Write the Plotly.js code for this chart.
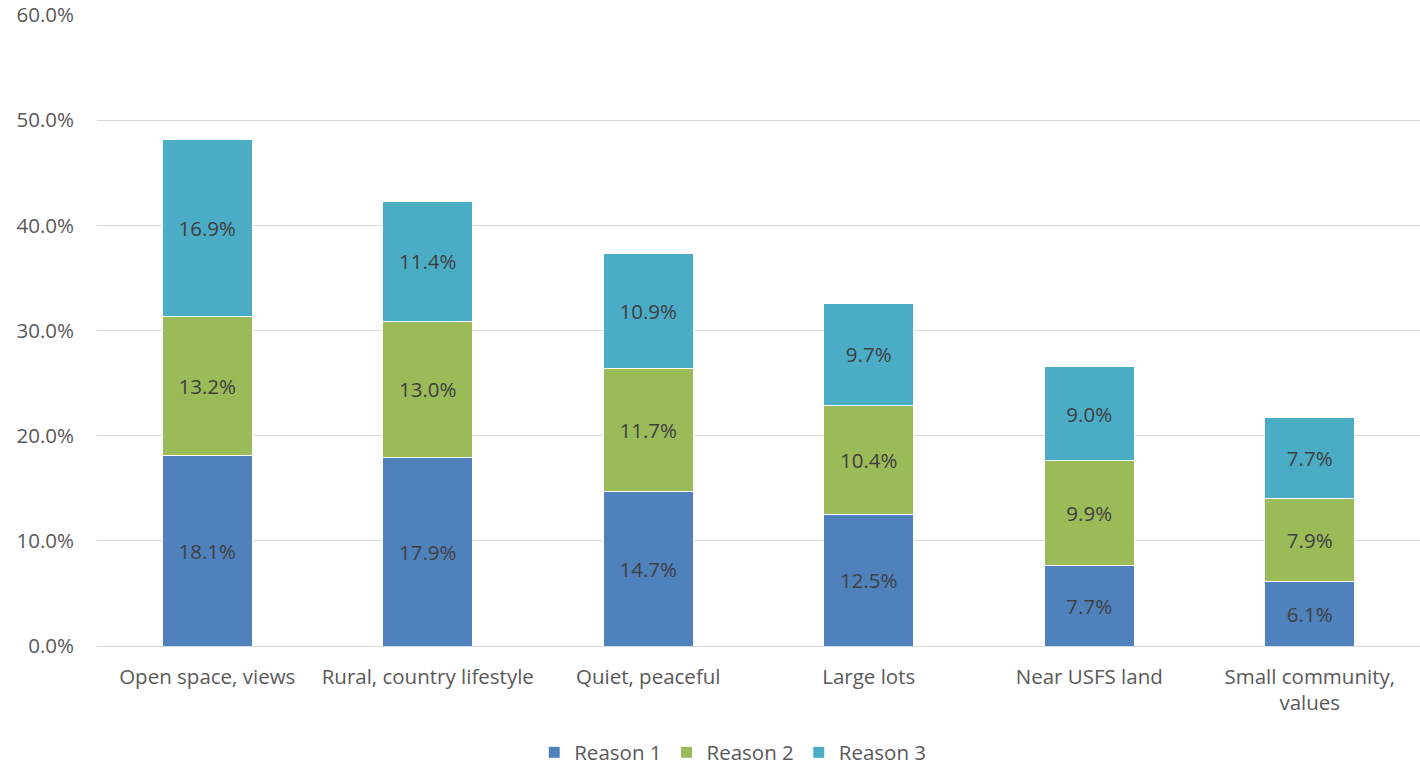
<!DOCTYPE html>
<html>
<head>
<meta charset="utf-8">
<script src="https://cdn.plot.ly/plotly-3.0.1.min.js"></script>
<style>html,body{margin:0;padding:0;background:#fff;}#chart{width:1420px;height:771px;}</style>
</head>
<body>
<div id="chart"></div>
<script>
const categories = ["Open space, views", "Rural, country lifestyle", "Quiet, peaceful", "Large lots", "Near USFS land", "Small community,<br>values"];
const reason1 = [18.1, 17.9, 14.7, 12.5, 7.7, 6.1];
const reason2 = [13.2, 13.0, 11.7, 10.4, 9.9, 7.9];
const reason3 = [16.9, 11.4, 10.9, 9.7, 9.0, 7.7];
const seriesNames = ["Reason 1", "Reason 2", "Reason 3"];
const colors = ["#4F81BD", "#9BBB59", "#4BACC6"];

const FONT = "Open Sans, Liberation Sans, sans-serif";
const FS = 20.5;
const traces = [reason1, reason2, reason3].map((vals, i) => ({
  type: "bar",
  name: seriesNames[i],
  x: categories,
  y: vals,
  marker: {color: colors[i], line: {color: "#ffffff", width: 1}},
  texttemplate: "%{y:.1f}%",
  textposition: "inside",
  insidetextanchor: "middle",
  textangle: 0,
  textfont: {family: FONT, size: FS, color: "#404040"},
  hoverinfo: "skip"
}));

const layout = {
  width: 1420, height: 771,
  margin: {l: 97, r: 0, t: 15, b: 125},
  barmode: "stack",
  bargap: 0.59,
  paper_bgcolor: "#fff", plot_bgcolor: "#fff",
  font: {family: FONT, size: FS, color: "#595959"},
  showlegend: true,
  legend: {
    orientation: "h", xref: "container", yref: "container",
    x: 0.516, xanchor: "center", y: 0.024, yanchor: "middle",
    font: {family: FONT, size: FS, color: "#595959"},
    traceorder: "normal", itemwidth: 30
  },
  xaxis: {
    showgrid: false, showline: true, linecolor: "#D9D9D9", linewidth: 1,
    ticks: "", ticklabelstandoff: 12,
    tickfont: {family: FONT, size: FS, color: "#595959"}
  },
  yaxis: {
    range: [0, 60], dtick: 10, tickformat: ".1f", ticksuffix: "%",
    showgrid: true, gridcolor: "#D9D9D9", gridwidth: 1,
    zeroline: false, showline: false, ticks: "",
    ticklabelstandoff: 22,
    tickfont: {family: FONT, size: FS, color: "#595959"}
  }
};
Plotly.newPlot("chart", traces, layout, {displayModeBar: false, staticPlot: true});
</script>
</body>
</html>
